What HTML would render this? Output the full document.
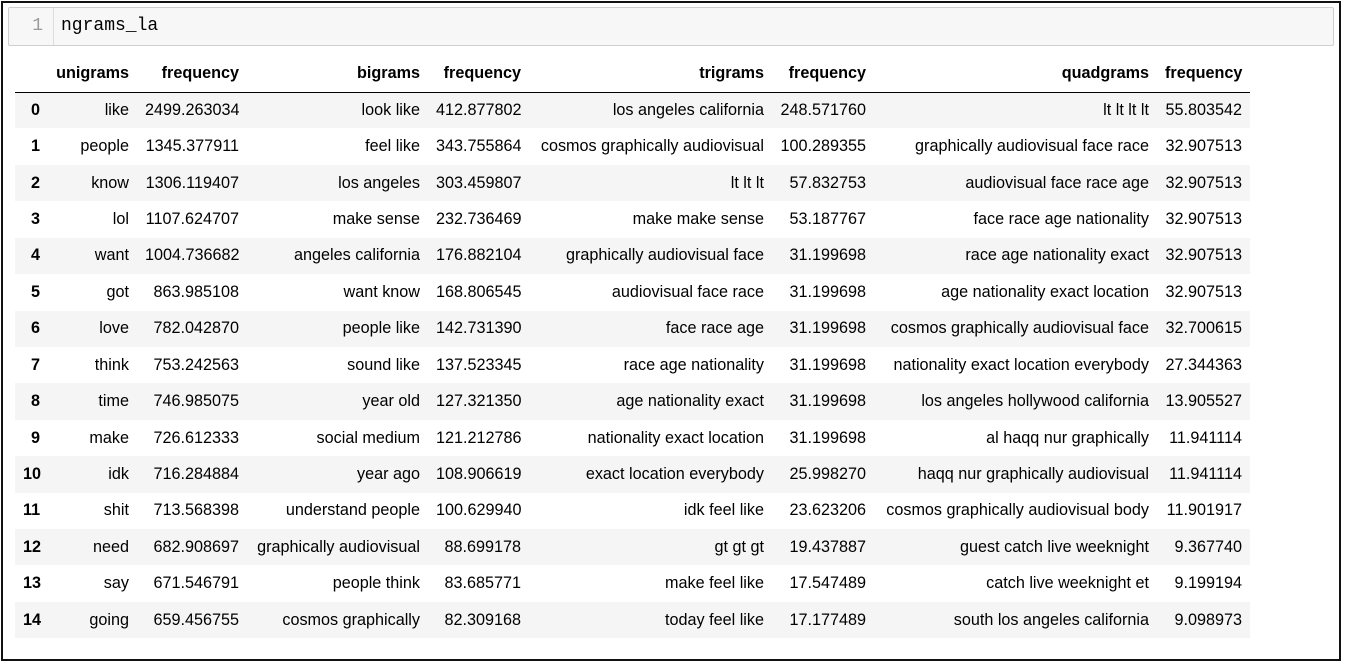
<!DOCTYPE html>
<html><head><meta charset="utf-8"><style>
body{margin:0;width:1347px;height:669px;background:#fff;overflow:hidden;font-family:"Liberation Sans",Arial,sans-serif;}
#frame{position:absolute;left:1px;top:1px;width:1340px;height:660px;border:2px solid #111;box-sizing:border-box;}
#cell{position:absolute;left:8px;top:7px;width:1326px;height:39px;background:#f7f7f7;border:1px solid #cfcfcf;box-sizing:border-box;border-radius:2px;font-family:"Liberation Mono",monospace;font-size:18px;}
#gutter{position:absolute;left:0;top:0;width:45px;height:37px;border-right:1px solid #ddd;color:#999;text-align:right;line-height:37px;box-sizing:border-box;padding-right:10px;}
#code{position:absolute;left:52px;top:0;line-height:37px;color:#000;}
table{position:absolute;left:15px;top:56px;border-collapse:collapse;table-layout:fixed;width:1235px;font-size:16.2px;color:#000;}
th,td{padding:0 8px;text-align:right;white-space:nowrap;height:36.43px;box-sizing:border-box;}
thead th{font-weight:bold;height:36px;border-bottom:1px solid #000;}
tbody tr:nth-child(odd){background:#f5f5f5;}
tbody th{font-weight:bold;text-align:right;}
</style></head><body>
<div id="frame"></div>
<div id="cell"><div id="gutter">1</div><div id="code">ngrams_la</div></div>
<table>
<colgroup><col style="width:33px"><col style="width:89px"><col style="width:110px"><col style="width:181px"><col style="width:101px"><col style="width:243px"><col style="width:102px"><col style="width:283px"><col style="width:93px"></colgroup>
<thead><tr><th></th><th>unigrams</th><th>frequency</th><th>bigrams</th><th>frequency</th><th>trigrams</th><th>frequency</th><th>quadgrams</th><th>frequency</th></tr></thead>
<tbody id="tb"></tbody></table>
<script>
const uni=["like","people","know","lol","want","got","love","think","time","make","idk","shit","need","say","going"];
const uniF=["2499.263034","1345.377911","1306.119407","1107.624707","1004.736682","863.985108","782.042870","753.242563","746.985075","726.612333","716.284884","713.568398","682.908697","671.546791","659.456755"];
const bi=["look like","feel like","los angeles","make sense","angeles california","want know","people like","sound like","year old","social medium","year ago","understand people","graphically audiovisual","people think","cosmos graphically"];
const biF=["412.877802","343.755864","303.459807","232.736469","176.882104","168.806545","142.731390","137.523345","127.321350","121.212786","108.906619","100.629940","88.699178","83.685771","82.309168"];
const tri=["los angeles california","cosmos graphically audiovisual","lt lt lt","make make sense","graphically audiovisual face","audiovisual face race","face race age","race age nationality","age nationality exact","nationality exact location","exact location everybody","idk feel like","gt gt gt","make feel like","today feel like"];
const triF=["248.571760","100.289355","57.832753","53.187767","31.199698","31.199698","31.199698","31.199698","31.199698","31.199698","25.998270","23.623206","19.437887","17.547489","17.177489"];
const quad=["lt lt lt lt","graphically audiovisual face race","audiovisual face race age","face race age nationality","race age nationality exact","age nationality exact location","cosmos graphically audiovisual face","nationality exact location everybody","los angeles hollywood california","al haqq nur graphically","haqq nur graphically audiovisual","cosmos graphically audiovisual body","guest catch live weeknight","catch live weeknight et","south los angeles california"];
const quadF=["55.803542","32.907513","32.907513","32.907513","32.907513","32.907513","32.700615","27.344363","13.905527","11.941114","11.941114","11.901917","9.367740","9.199194","9.098973"];
const tb=document.getElementById('tb');
for(let i=0;i<uni.length;i++){
  const tr=document.createElement('tr');
  
  
  const vals=[i,uni[i],uniF[i],bi[i],biF[i],tri[i],triF[i],quad[i],quadF[i]];
  vals.forEach((v,j)=>{
    const c=document.createElement(j===0?'th':'td');
    c.textContent=v;
    
    
    tr.appendChild(c);
  });
  tb.appendChild(tr);
}
</script>
</body></html>
